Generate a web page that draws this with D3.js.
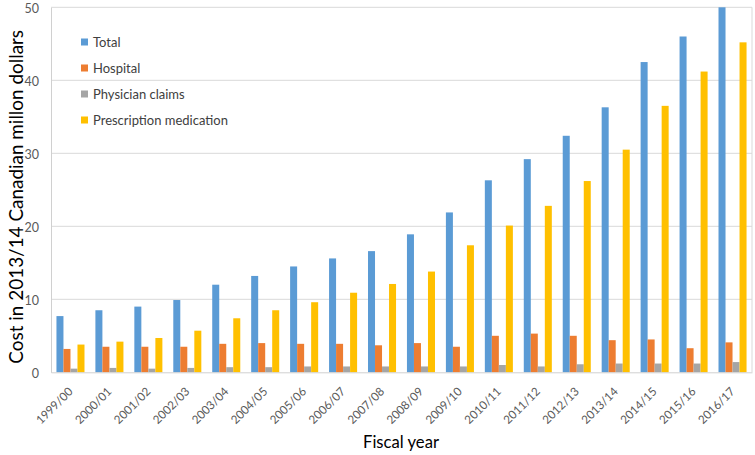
<!DOCTYPE html>
<html><head><meta charset="utf-8">
<script src="https://cdn.jsdelivr.net/npm/d3@7"></script>
<style>body{margin:0;background:#fff}svg{display:block}</style>
</head><body>
<svg id="c" width="755" height="455"></svg>
<script>
const years = ["1999/00","2000/01","2001/02","2002/03","2003/04","2004/05","2005/06","2006/07","2007/08","2008/09","2009/10","2010/11","2011/12","2012/13","2013/14","2014/15","2015/16","2016/17"];
const seriesNames = ["Total","Hospital","Physician claims","Prescription medication"];
const total = [7.7,8.5,9.0,9.9,12.0,13.2,14.5,15.6,16.6,18.9,21.9,26.3,29.2,32.4,36.3,42.5,46.0,50.0];
const hospital = [3.2,3.5,3.5,3.5,3.9,4.0,3.9,3.9,3.7,4.0,3.5,5.0,5.3,5.0,4.4,4.5,3.3,4.1];
const physician = [0.5,0.6,0.5,0.6,0.7,0.7,0.8,0.8,0.8,0.8,0.8,1.0,0.8,1.1,1.2,1.2,1.2,1.4];
const prescription = [3.8,4.2,4.7,5.7,7.4,8.5,9.6,10.9,12.1,13.8,17.4,20.1,22.8,26.2,30.5,36.5,41.2,45.2];
const yTicks = [0,10,20,30,40,50];
const colors = ["#5B9BD5","#ED7D31","#A5A5A5","#FFC000"];

const seriesValues = [total, hospital, physician, prescription];
const svg = d3.select("#c");
const font = "Lato, 'Open Sans', sans-serif";
const L = 51, R = 752, T = 7.3, B = 372.3;

function fit(sel, base, target) {
  sel.attr("font-size", base);
  const w = sel.node().getComputedTextLength();
  sel.attr("font-size", base * target / w);
  return base * target / w;
}

const x0 = d3.scaleBand().domain(years).range([L, R]).paddingInner(0.28).paddingOuter(0.14);
const x1 = d3.scaleBand().domain(seriesNames).range([0, x0.bandwidth()]);
const y = d3.scaleLinear().domain([0, 50]).range([B, T]);

svg.append("g").selectAll("line").data(yTicks.filter(d => d > 0)).join("line")
  .attr("x1", L).attr("x2", R).attr("y1", d => y(d)).attr("y2", d => y(d))
  .attr("stroke", "#d9d9d9").attr("stroke-width", 1);
svg.append("line").attr("x1", R).attr("x2", R).attr("y1", T).attr("y2", B).attr("stroke", "#d9d9d9");

const gs = svg.append("g").selectAll("g").data(years).join("g")
  .attr("transform", d => `translate(${x0(d)},0)`);
gs.selectAll("rect").data((d, i) => seriesNames.map((s, k) => ({s, v: seriesValues[k][i], k})))
  .join("rect")
  .attr("x", d => x1(d.s)).attr("width", x1.bandwidth())
  .attr("y", d => y(d.v)).attr("height", d => y(0) - y(d.v))
  .attr("fill", d => colors[d.k]);

const ya = svg.append("g").attr("transform", `translate(${L},0)`)
  .call(d3.axisLeft(y).tickValues(yTicks).tickSize(0).tickPadding(12));
ya.select(".domain").attr("stroke", "#d0d0d0");
ya.selectAll("text").attr("font-family", font).attr("font-size", 12.5).attr("fill", "#595959").attr("dy", "0.45em");

const xa = svg.append("g").attr("transform", `translate(0,${B})`)
  .call(d3.axisBottom(x0).tickSize(0).tickPadding(0));
xa.select(".domain").attr("stroke", "#d0d0d0");
const xt = xa.selectAll("text").attr("font-family", font).attr("fill", "#595959")
  .attr("text-anchor", "end").attr("dy", 0)
  .attr("transform", "translate(3,20) rotate(-45)");
const xfs = fit(d3.select(xt.nodes()[0]), 12, 46);
xt.attr("font-size", xfs);

const ft = svg.append("text").attr("x", 401).attr("y", 448).attr("text-anchor", "middle")
  .attr("font-family", font).attr("fill", "#000").text("Fiscal year");
fit(ft, 17, 76);
const yt = svg.append("text").attr("transform", `translate(23,${(T + B) / 2 + 7}) rotate(-90)`).attr("text-anchor", "middle")
  .attr("font-family", font).attr("fill", "#000").text("Cost in 2013/14 Canadian millon dollars");
fit(yt, 17, 334);

const lg = svg.append("g").selectAll("g").data(seriesNames).join("g")
  .attr("transform", (d, i) => `translate(81,${42 + i * 26})`);
lg.append("rect").attr("x", 0).attr("y", -3.5).attr("width", 7).attr("height", 7).attr("fill", (d, i) => colors[i]);
const lt = lg.append("text").attr("x", 12).attr("y", 0).attr("dy", "0.35em")
  .attr("font-family", font).attr("fill", "#404040").text(d => d);
const lfs = fit(d3.select(lt.nodes()[3]), 13, 135);
lt.attr("font-size", lfs);
</script>
</body></html>
